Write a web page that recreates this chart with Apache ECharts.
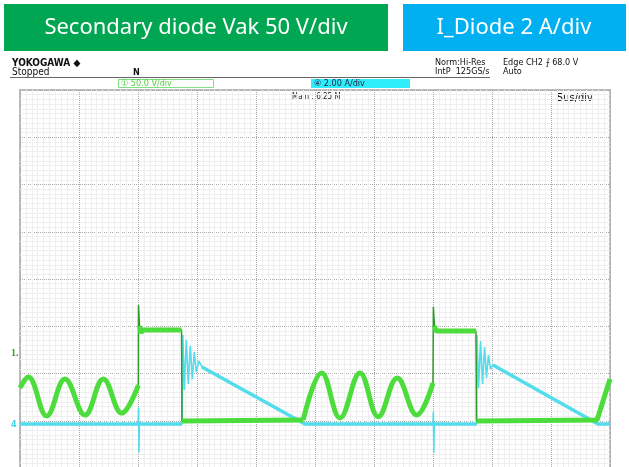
<!DOCTYPE html>
<html>
<head>
<meta charset="utf-8">
<script src="https://cdn.jsdelivr.net/npm/echarts@6/dist/echarts.min.js"></script>
<style>
html, body { margin: 0; padding: 0; background: #fff; }
#chart { width: 629px; height: 467px; }
</style>
</head>
<body>
<div id="chart"></div>
<script>
// time in us (5 us/div, 10 div), Vak in V (50 V/div), I_Diode in A (2 A/div)
const vakRing1 = [[0, -38], [0.70, -26.5], [2.26, -67.7], [3.81, -28.6], [5.51, -66.7], [7.06, -28.6], [8.62, -64.6], [10.03, -35]]
const vakStep1 = [[10.03, -35], [10.04, 49.7], [10.13, 27.5], [10.25, 20.1], [10.4, 23.3], [13.69, 23.3], [13.73, -73], [13.8, -72], [24.0, -72]]
const vakRing2 = [[24.0, -72], [25.57, -22.2], [27.12, -69.8], [28.81, -22.2], [30.36, -68.5], [31.97, -27.5], [33.62, -66.7], [35.0, -32.8]]
const vakStep2 = [[35.0, -32.8], [35.03, 47.6], [35.13, 27.5], [35.25, 22.2], [38.64, 22.2], [38.69, -73], [38.75, -72], [48.9, -72], [50.0, -28.6]]

// diode current: baseline, switching spikes, turn-on ringing, ramp down
const iDiode = [
  [0, 0], [10.0, 0], [10.05, 0.7], [10.08, -1.2], [10.12, 0.1], [10.16, 0],
  [13.73, 0], [13.8, 3.77], [13.92, 1.44], [14.09, 3.56], [14.26, 1.69], [14.43, 3.3], [14.6, 1.9],
  [14.77, 3.05], [14.94, 2.2], [15.17, 2.67], [15.42, 2.41],
  [24.15, 0], [35.0, 0], [35.03, 0.52], [35.07, -1.23], [35.11, 0.1], [35.15, 0],
  [38.69, 0], [38.73, 3.77], [38.86, 1.52], [39.03, 3.51], [39.2, 1.69], [39.37, 3.26], [39.53, 1.95],
  [39.7, 2.92], [39.87, 2.33], [40.08, 2.5],
  [48.98, 0], [50, 0]
]

const green = '#4cdc3c'
const greenEdge = '#2e9a2a'
const cyan = '#52dcec'
const scopeFont = "'Liberation Sans Narrow', 'DejaVu Sans Condensed', sans-serif"

const chart = echarts.init(document.getElementById('chart'))

const trace = (data, yIdx, color, width, smooth, z) => ({
  type: 'line',
  yAxisIndex: yIdx,
  data: data,
  smooth: smooth,
  symbol: 'none',
  z: z,
  lineStyle: { color: color, width: width }
})

// the noisy flat parts are drawn as thick bands, the fast edges and ringing thin
const cyanSeries = [
  trace(iDiode, 2, cyan, 1.6, false, 3),
  trace(iDiode.slice(0, 2), 2, cyan, 3.5, false, 3),
  trace(iDiode.slice(5, 7), 2, cyan, 3.5, false, 3),
  trace(iDiode.slice(16, 19), 2, cyan, 3.5, false, 3),
  trace(iDiode.slice(22, 24), 2, cyan, 3.5, false, 3),
  trace(iDiode.slice(32), 2, cyan, 3.5, false, 3)
]
const greenSeries = [
  trace(vakStep1, 1, greenEdge, 1.5, false, 4),
  trace(vakStep2, 1, greenEdge, 1.5, false, 4),
  trace(vakRing1, 1, green, 5, 0.4, 5),
  trace(vakStep1.slice(2, 6), 1, green, 5, false, 5),
  trace(vakStep1.slice(6), 1, green, 5, false, 5),
  trace(vakRing2, 1, green, 5, 0.4, 5),
  trace(vakStep2.slice(2, 5), 1, green, 5, false, 5),
  trace(vakStep2.slice(5), 1, green, 5, false, 5)
]

chart.setOption({
  animation: false,
  grid: {
    left: 20,
    top: 90,
    width: 590,
    height: 378,
    outerBoundsMode: 'none',
    show: true,
    borderColor: '#bcbcbc',
    borderWidth: 2
  },
  xAxis: {
    type: 'value',
    min: 0,
    max: 50,
    interval: 5,
    axisLabel: { show: false },
    axisLine: { show: false },
    axisTick: { show: false },
    splitLine: { lineStyle: { color: '#a8a8a8', type: 'dotted', width: 1 } },
    minorTick: { show: false, splitNumber: 10 },
    minorSplitLine: { show: true, lineStyle: { color: '#efefef', width: 1 } }
  },
  yAxis: [
    {
      // divisions, used for the graticule only
      type: 'value',
      min: -4,
      max: 4,
      interval: 1,
      axisLabel: { show: false },
      axisLine: { show: false },
      axisTick: { show: false },
      splitLine: { lineStyle: { color: '#a8a8a8', type: 'dotted', width: 1 } },
      minorTick: { show: false, splitNumber: 10 },
      minorSplitLine: { show: true, lineStyle: { color: '#efefef', width: 1 } }
    },
    { type: 'value', show: false, min: -122.75, max: 277.25 },
    { type: 'value', show: false, min: -1.862, max: 14.138 }
  ],
  series: cyanSeries.concat(greenSeries),
  graphic: [
    { type: 'rect', shape: { x: 4, y: 4, width: 384, height: 47 }, style: { fill: '#00a651' } },
    {
      type: 'text', x: 196, y: 28,
      style: { text: 'Secondary diode Vak 50 V/div', fill: '#fff', fontSize: 22, fontFamily: 'Noto Sans', textAlign: 'center', textVerticalAlign: 'middle' }
    },
    { type: 'rect', shape: { x: 403, y: 4, width: 223, height: 47 }, style: { fill: '#00b0f0' } },
    {
      type: 'text', x: 514, y: 28,
      style: { text: 'I_Diode 2 A/div', fill: '#fff', fontSize: 22, fontFamily: 'Noto Sans', textAlign: 'center', textVerticalAlign: 'middle' }
    },
    // scope header
    { type: 'text', x: 12, y: 63, style: { text: 'YOKOGAWA ◆', fill: '#111', fontSize: 10, fontWeight: 'bold', fontFamily: scopeFont, textVerticalAlign: 'middle' } },
    { type: 'text', x: 12, y: 72, style: { text: 'Stopped', fill: '#111', fontSize: 10, fontFamily: scopeFont, textVerticalAlign: 'middle' } },
    { type: 'line', shape: { x1: 10, y1: 77.5, x2: 490, y2: 77.5 }, style: { stroke: '#666', lineWidth: 1 } },
    { type: 'text', x: 133, y: 73, style: { text: 'N', fill: '#111', fontSize: 9, fontWeight: 'bold', fontFamily: scopeFont, textVerticalAlign: 'middle' } },
    { type: 'rect', shape: { x: 118.5, y: 79.5, width: 95, height: 8 }, style: { fill: '#fff', stroke: '#7ee07e', lineWidth: 1 } },
    { type: 'text', x: 121, y: 84, style: { text: '① 50.0 V/div', fill: '#55cc44', fontSize: 9, fontFamily: scopeFont, textVerticalAlign: 'middle' } },
    { type: 'rect', shape: { x: 311, y: 79, width: 99, height: 9 }, style: { fill: '#2eeefc' } },
    { type: 'text', x: 314, y: 84, style: { text: '④ 2.00 A/div', fill: '#224', fontSize: 9, fontFamily: scopeFont, textVerticalAlign: 'middle' } },
    { type: 'text', x: 292, y: 97, style: { text: 'Main : 6.25 M', fill: '#222', fontSize: 8, fontFamily: 'DejaVu Sans Condensed', textVerticalAlign: 'middle' } },
    { type: 'text', x: 557, y: 98, style: { text: '5us/div', fill: '#111', fontSize: 11, fontFamily: scopeFont, textVerticalAlign: 'middle' } },
    { type: 'text', x: 435, y: 63, style: { text: 'Norm:Hi-Res', fill: '#111', fontSize: 9, fontFamily: scopeFont, textVerticalAlign: 'middle' } },
    { type: 'text', x: 435, y: 72, style: { text: 'IntP  125GS/s', fill: '#111', fontSize: 9, fontFamily: scopeFont, textVerticalAlign: 'middle' } },
    { type: 'text', x: 503, y: 63, style: { text: 'Edge CH2 ⨍ 68.0 V', fill: '#111', fontSize: 9, fontFamily: scopeFont, textVerticalAlign: 'middle' } },
    { type: 'text', x: 503, y: 72, style: { text: 'Auto', fill: '#111', fontSize: 9, fontFamily: scopeFont, textVerticalAlign: 'middle' } },
    // channel ground markers
    { type: 'text', x: 11, y: 353, style: { text: '1.', fill: '#3a9a2a', fontSize: 10, fontWeight: 'bold', fontFamily: 'Liberation Serif', textVerticalAlign: 'middle' } },
    { type: 'text', x: 11, y: 425, style: { text: '4', fill: '#44d4e8', fontSize: 9, fontWeight: 'bold', fontFamily: scopeFont, textVerticalAlign: 'middle' } }
  ]
})
</script>
</body>
</html>
